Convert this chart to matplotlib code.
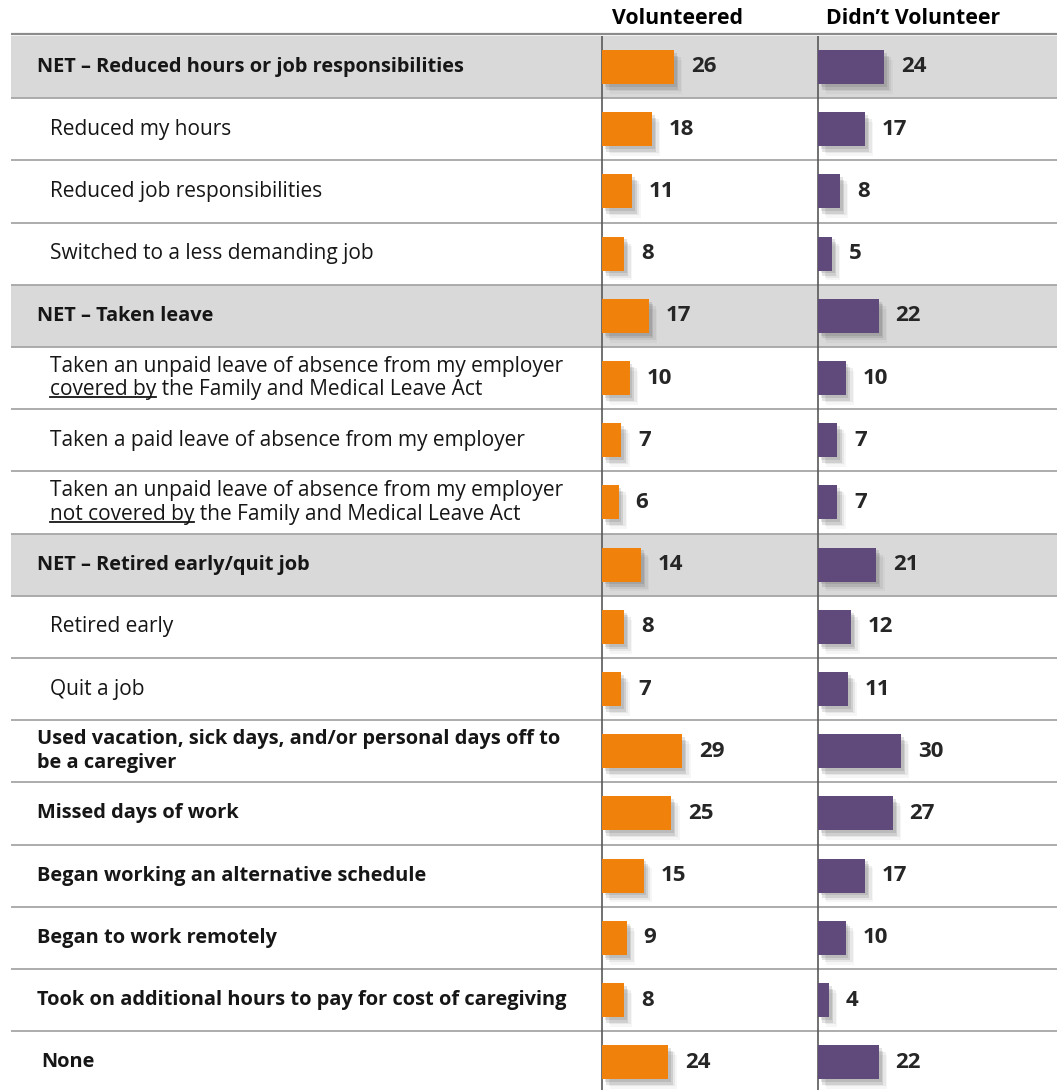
import matplotlib
matplotlib.use("Agg")
import matplotlib.pyplot as plt
import matplotlib.patheffects as pe

# ===============================
# DATA
# ===============================
labels = [
    "NET – Reduced hours or job responsibilities",
    "Reduced my hours",
    "Reduced job responsibilities",
    "Switched to a less demanding job",
    "NET – Taken leave",
    "Taken an unpaid leave of absence from my employer\ncovered by the Family and Medical Leave Act",
    "Taken a paid leave of absence from my employer",
    "Taken an unpaid leave of absence from my employer\nnot covered by the Family and Medical Leave Act",
    "NET – Retired early/quit job",
    "Retired early",
    "Quit a job",
    "Used vacation, sick days, and/or personal days off to\nbe a caregiver",
    "Missed days of work",
    "Began working an alternative schedule",
    "Began to work remotely",
    "Took on additional hours to pay for cost of caregiving",
    "None",
]
kinds = ["net", "sub", "sub", "sub", "net", "sub", "sub", "sub",
         "net", "sub", "sub", "main", "main", "main", "main", "main", "none"]
underlined = {5: "covered by", 7: "not covered by"}

volunteered = [26, 18, 11, 8, 17, 10, 7, 6, 14, 8, 7, 29, 25, 15, 9, 8, 24]
didnt_volunteer = [24, 17, 8, 5, 22, 10, 7, 7, 21, 12, 11, 30, 27, 17, 10, 4, 22]
headers = ["Volunteered", "Didn’t Volunteer"]

# ===============================
# LAYOUT (pixels)
# ===============================
W, H = 1057, 1090
ROW0, ROWH = 67, 62.2
PX_PER_UNIT = 2.77
COL_V, COL_D = 602, 818
ORANGE, PURPLE = "#F0820C", "#604A7B"
TXT = "#161616"

plt.rcParams["font.family"] = ["Open Sans", "DejaVu Sans"]


def row(p):
    return (p - ROW0) / ROWH


fig = plt.figure(figsize=(W / 100, H / 100), dpi=100)
ax = fig.add_axes([0, 0, 1, 1])
ax.set_xlim(0, W)
ax.set_ylim(row(H), row(0))
ax.axis("off")

n = len(labels)

# bandas grises y separadores
for i, k in enumerate(kinds):
    if k == "net":
        ax.fill_between([11, W], i - 0.5, i + 0.5, color="#d9d9d9", lw=0, zorder=0)
for i in range(1, n):
    ax.hlines(i - 0.5, 11, W, color="#a6a6a6", lw=1.3, zorder=1)
ax.hlines(-0.53, 11, W, color="#8c8c8c", lw=1.6, zorder=1)
ax.vlines([COL_V - 0.5, COL_D - 0.5], -0.5, row(H), color="#595959", lw=1.2, zorder=3)

# encabezados
ax.text(677, row(19), headers[0], ha="center", va="center",
        fontsize=15.3, fontweight="bold", color="black")
ax.text(913, row(19), headers[1], ha="center", va="center",
        fontsize=15.3, fontweight="bold", color="black")

# etiquetas
x_pos = {"net": 37, "main": 37, "sub": 50, "none": 41}
line_gap = 23.5 / ROWH
underline_jobs = []
for i, (lab, k) in enumerate(zip(labels, kinds)):
    lines = lab.split("\n")
    m = len(lines)
    for j, ln in enumerate(lines):
        y = i + (j - (m - 1) / 2) * line_gap
        if k == "sub":
            t = ax.text(x_pos[k], y, ln, ha="left", va="center", fontsize=15,
                        fontweight="normal", color=TXT)
        else:
            t = ax.text(x_pos[k], y, ln, ha="left", va="center", fontsize=14.4,
                        fontweight="bold", color=TXT)
        if i in underlined and ln.startswith(underlined[i]):
            underline_jobs.append((t, ln, underlined[i]))

# barras
shadow = [
    pe.SimplePatchShadow(offset=(2, -2), shadow_rgbFace="#555555", alpha=0.16),
    pe.SimplePatchShadow(offset=(3, -4), shadow_rgbFace="#555555", alpha=0.16),
    pe.SimplePatchShadow(offset=(5, -5), shadow_rgbFace="#555555", alpha=0.09),
    pe.SimplePatchShadow(offset=(6, -7), shadow_rgbFace="#555555", alpha=0.05),
    pe.Normal(),
]
for left, right, vals, col in [(COL_V, COL_D, volunteered, ORANGE),
                               (COL_D, W, didnt_volunteer, PURPLE)]:
    bax = fig.add_axes([left / W, 0, (right - left) / W, 1])
    bax.set_xlim(0, (right - left) / PX_PER_UNIT)
    bax.set_ylim(row(H), row(0))
    bax.axis("off")
    bax.patch.set_alpha(0)
    bars = bax.barh(range(n), vals, height=34 / ROWH, color=col, zorder=2)
    for b in bars:
        b.set_path_effects(shadow)
    for i, v in enumerate(vals):
        bax.annotate(str(v), (v, i), xytext=(12, 0), textcoords="offset points",
                     ha="left", va="center", fontsize=16, fontweight="bold", color="#262626")

# subrayado
fig.canvas.draw()
r = fig.canvas.get_renderer()
inv = ax.transData.inverted()
for t, ln, pref in underline_jobs:
    bb = t.get_window_extent(r)
    _, _, d = r.get_text_width_height_descent(ln, t.get_fontproperties(), ismath=False)
    w, _, _ = r.get_text_width_height_descent(pref, t.get_fontproperties(), ismath=False)
    base = bb.y0 + d - 2
    (x0, y0), (x1, _) = inv.transform([(bb.x0, base), (bb.x0 + w, base)])
    ax.plot([x0, x1], [y0, y0], color=TXT, lw=1.3)

fig.savefig("out.png", dpi=100)
